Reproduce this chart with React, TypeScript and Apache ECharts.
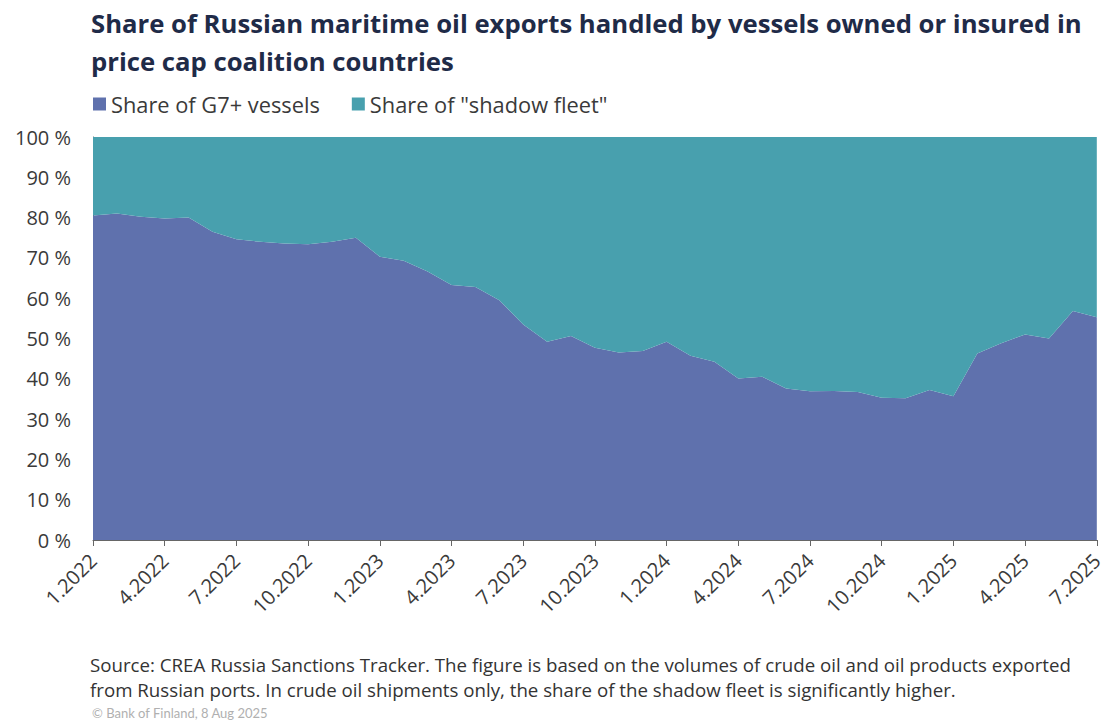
import React, { useEffect, useRef } from "react";
import * as echarts from "echarts";

const categories = [
  "1.2022", "2.2022", "3.2022", "4.2022", "5.2022", "6.2022", "7.2022", "8.2022", "9.2022", "10.2022", "11.2022", "12.2022",
  "1.2023", "2.2023", "3.2023", "4.2023", "5.2023", "6.2023", "7.2023", "8.2023", "9.2023", "10.2023", "11.2023", "12.2023",
  "1.2024", "2.2024", "3.2024", "4.2024", "5.2024", "6.2024", "7.2024", "8.2024", "9.2024", "10.2024", "11.2024", "12.2024",
  "1.2025", "2.2025", "3.2025", "4.2025", "5.2025", "6.2025", "7.2025",
];

const g7Share = [
  80.5, 81, 80.2, 79.8, 80, 76.5, 74.6, 74, 73.6, 73.4, 74, 75,
  70.3, 69.3, 66.6, 63.3, 62.8, 59.5, 53.5, 49.2, 50.6, 47.7, 46.5, 46.9,
  49.2, 45.7, 44.2, 40.1, 40.5, 37.6, 36.9, 37, 36.7, 35.3, 35.2, 37.2,
  35.7, 46.3, 48.8, 51, 50, 56.8, 55.3,
];

const shadowShare = [
  19.5, 19, 19.8, 20.2, 20, 23.5, 25.4, 26, 26.4, 26.6, 26, 25,
  29.7, 30.7, 33.4, 36.7, 37.2, 40.5, 46.5, 50.8, 49.4, 52.3, 53.5, 53.1,
  50.8, 54.3, 55.8, 59.9, 59.5, 62.4, 63.1, 63, 63.3, 64.7, 64.8, 62.8,
  64.3, 53.7, 51.2, 49, 50, 43.2, 44.7,
];

const seriesNames = ["Share of G7+ vessels", 'Share of "shadow fleet"'];
const titleLines = [
  "Share of Russian maritime oil exports handled by vessels owned or insured in",
  "price cap coalition countries",
];
const footerLines = [
  "Source: CREA Russia Sanctions Tracker. The figure is based on the volumes of crude oil and oil products exported",
  "from Russian ports. In crude oil shipments only, the share of the shadow fleet is significantly higher.",
];
const copyrightText = "© Bank of Finland, 8 Aug 2025";

const FONT = "'Open Sans', Lato, sans-serif";
const G7_COLOR = "#5f71ad";
const SHADOW_COLOR = "#48a0ae";
const TEXT_COLOR = "#3a3a3a";

export default function App() {
  const ref = useRef<HTMLDivElement>(null);

  useEffect(() => {
    document.body.style.margin = "0";
    const chart = echarts.init(ref.current!, undefined, { renderer: "svg" });
    chart.setOption({
      animation: false,
      backgroundColor: "#ffffff",
      textStyle: { fontFamily: FONT },
      graphic: [
        {
          type: "text",
          left: 91,
          top: 4,
          style: {
            text: titleLines.join("\n"),
            font: `bold 25.7px ${FONT}`,
            fill: "#1f2b48",
            lineHeight: 38,
          },
        },
        {
          type: "text",
          left: 90,
          top: 652,
          style: {
            text: footerLines.join("\n"),
            font: `18.7px ${FONT}`,
            fill: "#333333",
            lineHeight: 25,
          },
        },
        {
          type: "text",
          left: 92,
          top: 706,
          style: {
            text: copyrightText,
            font: "13px Lato, sans-serif",
            fill: "#b0b0b0",
          },
        },
      ],
      legend: {
        left: 88,
        top: 88,
        itemWidth: 13,
        itemHeight: 13,
        itemGap: 32,
        icon: "rect",
        textStyle: { fontSize: 21.8, color: TEXT_COLOR, fontFamily: FONT },
        data: seriesNames,
      },
      grid: { left: 93, right: 9, top: 137, bottom: 182, containLabel: false },
      xAxis: {
        type: "category",
        data: categories,
        boundaryGap: false,
        axisLine: { lineStyle: { color: "#666666", width: 1 } },
        axisTick: { show: true, interval: 2, length: 6, lineStyle: { color: "#666666" } },
        axisLabel: {
          interval: 2,
          rotate: 45,
          fontSize: 20,
          color: TEXT_COLOR,
          fontFamily: FONT,
          margin: 17,
        },
        splitLine: { show: false },
      },
      yAxis: {
        type: "value",
        min: 0,
        max: 100,
        interval: 10,
        axisLine: { show: true, lineStyle: { color: "#666666", width: 1 } },
        axisTick: { show: false },
        splitLine: { show: false },
        axisLabel: {
          formatter: "{value} %",
          fontSize: 20,
          color: TEXT_COLOR,
          fontFamily: FONT,
          margin: 22,
        },
      },
      series: [
        {
          name: seriesNames[0],
          type: "line",
          stack: "total",
          data: g7Share,
          symbol: "none",
          lineStyle: { width: 0 },
          areaStyle: { color: G7_COLOR, opacity: 1 },
          itemStyle: { color: G7_COLOR },
        },
        {
          name: seriesNames[1],
          type: "line",
          stack: "total",
          data: shadowShare,
          symbol: "none",
          lineStyle: { width: 0 },
          areaStyle: { color: SHADOW_COLOR, opacity: 1 },
          itemStyle: { color: SHADOW_COLOR },
        },
      ],
    });
    return () => chart.dispose();
  }, []);

  return <div ref={ref} style={{ width: 1106, height: 722 }} />;
}
